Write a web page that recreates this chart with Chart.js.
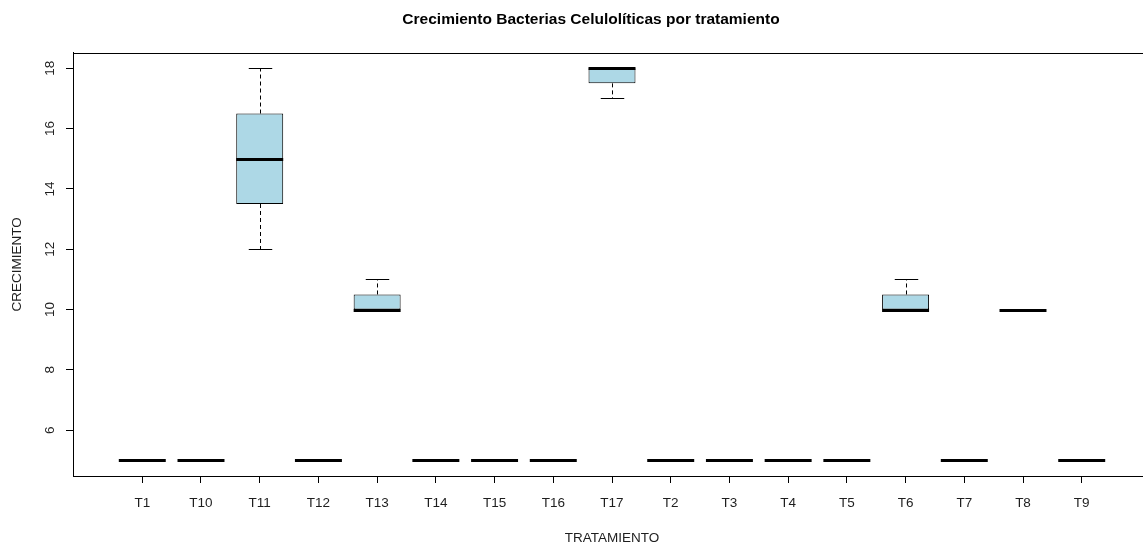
<!DOCTYPE html>
<html lang="es">
<head>
<meta charset="utf-8">
<title>Crecimiento Bacterias Celulolíticas por tratamiento</title>
<script src="https://cdn.jsdelivr.net/npm/chart.js@4.4.1/dist/chart.umd.min.js"></script>
<style>
  html, body { margin: 0; padding: 0; background: #fff; overflow: hidden; }
  #wrap { width: 1182px; height: 546px; }
  canvas { display: block; }
</style>
</head>
<body>
<div id="wrap"><canvas id="chart" width="1182" height="546"></canvas></div>
<script>
// Treatments, in the order they are plotted
const categories = ['T1', 'T10', 'T11', 'T12', 'T13', 'T14', 'T15', 'T16', 'T17',
                    'T2', 'T3', 'T4', 'T5', 'T6', 'T7', 'T8', 'T9'];

// Five-number summaries per treatment
const minimums = [5, 5, 12,   5, 10,   5, 5, 5, 17,   5, 5, 5, 5, 10,   5, 10, 5];
const lowerQ   = [5, 5, 13.5, 5, 10,   5, 5, 5, 17.5, 5, 5, 5, 5, 10,   5, 10, 5];
const medians  = [5, 5, 15,   5, 10,   5, 5, 5, 18,   5, 5, 5, 5, 10,   5, 10, 5];
const upperQ   = [5, 5, 16.5, 5, 10.5, 5, 5, 5, 18,   5, 5, 5, 5, 10.5, 5, 10, 5];
const maximums = [5, 5, 18,   5, 11,   5, 5, 5, 18,   5, 5, 5, 5, 11,   5, 10, 5];

// Value axis ticks
const yTicks = [6, 8, 10, 12, 14, 16, 18];

const FONT = "'Liberation Sans', Arial, Helvetica, sans-serif";
const INK = '#1e1e1e';

// Whiskers, staples, medians and the plot frame drawn around the floating bars
const boxplotParts = {
  id: 'boxplotParts',
  afterLayout(chart) {
    // centre the main title over the whole canvas
    if (chart.titleBlock) {
      chart.titleBlock.left = 0;
      chart.titleBlock.right = chart.width;
    }
  },
  beforeDatasetsDraw(chart) {
    const { ctx, scales: { x, y } } = chart;
    const bars = chart.getDatasetMeta(0).data;
    ctx.save();
    ctx.strokeStyle = '#000';
    ctx.lineWidth = 1;
    categories.forEach((c, i) => {
      const cx = Math.round(x.getPixelForValue(i + 1)) + 0.5;
      const half = bars[i].width / 2;
      const staple = half / 2;
      const yMin = Math.round(y.getPixelForValue(minimums[i])) + 0.5;
      const yMax = Math.round(y.getPixelForValue(maximums[i])) + 0.5;
      const yLo = y.getPixelForValue(lowerQ[i]);
      const yHi = y.getPixelForValue(upperQ[i]);
      // dashed whiskers
      ctx.setLineDash([4, 3]);
      ctx.beginPath();
      ctx.moveTo(cx, yHi); ctx.lineTo(cx, yMax);
      ctx.moveTo(cx, yLo); ctx.lineTo(cx, yMin);
      ctx.stroke();
      // staples
      ctx.setLineDash([]);
      ctx.beginPath();
      ctx.moveTo(cx - staple, yMax); ctx.lineTo(cx + staple, yMax);
      ctx.moveTo(cx - staple, yMin); ctx.lineTo(cx + staple, yMin);
      ctx.stroke();
    });
    ctx.restore();
  },
  afterDatasetsDraw(chart) {
    const { ctx, chartArea: a, scales: { x, y } } = chart;
    const bars = chart.getDatasetMeta(0).data;
    ctx.save();
    ctx.strokeStyle = '#000';
    ctx.lineWidth = 3;
    ctx.lineCap = 'butt';
    categories.forEach((c, i) => {
      const cx = x.getPixelForValue(i + 1);
      const half = bars[i].width / 2;
      const ym = Math.round(y.getPixelForValue(medians[i]));
      ctx.beginPath();
      ctx.moveTo(cx - half, ym + 0.5);
      ctx.lineTo(cx + half, ym + 0.5);
      ctx.stroke();
    });
    // plot frame
    ctx.lineWidth = 1;
    ctx.strokeRect(Math.round(a.left) + 0.5, Math.round(a.top) + 0.5,
                   Math.round(a.right - a.left), Math.round(a.bottom - a.top));
    ctx.restore();
  }
};

Chart.defaults.font.family = FONT;
Chart.defaults.color = INK;

new Chart(document.getElementById('chart'), {
  type: 'bar',
  data: {
    datasets: [{
      label: 'Crecimiento',
      data: categories.map((c, i) => ({ x: i + 1, y: [lowerQ[i], upperQ[i]] })),
      backgroundColor: '#ADD8E6',
      borderColor: '#000',
      borderWidth: 1,
      borderSkipped: false,
      barPercentage: 1,
      categoryPercentage: 0.8
    }]
  },
  options: {
    responsive: false,
    animation: false,
    devicePixelRatio: 1,
    layout: { padding: { left: 0, right: 31, top: 0, bottom: 0 } },
    plugins: {
      legend: { display: false },
      tooltip: { enabled: false },
      title: {
        display: true,
        text: 'Crecimiento Bacterias Celulolíticas por tratamiento',
        color: '#000',
        font: { family: FONT, size: 15.5, weight: 'bold' },
        padding: { top: 10, bottom: 24 }
      }
    },
    scales: {
      x: {
        type: 'linear',
        offset: false,
        min: -0.18,
        max: 18.18,
        afterBuildTicks: (scale) => { scale.ticks = categories.map((c, i) => ({ value: i + 1 })); },
        afterFit: (scale) => { scale.height = 70; },
        ticks: {
          autoSkip: false,
          maxRotation: 0,
          padding: 12,
          font: { size: 13.5 },
          callback: (v) => categories[v - 1]
        },
        grid: { display: true, offset: false, drawOnChartArea: false, drawTicks: true, tickLength: 7, color: '#000' },
        border: { display: true, color: '#000' },
        title: { display: true, text: 'TRATAMIENTO', font: { size: 13.5 }, padding: { top: 0, bottom: 0 } }
      },
      y: {
        type: 'linear',
        beginAtZero: false,
        min: 4.48,
        max: 18.52,
        afterBuildTicks: (scale) => { scale.ticks = yTicks.map((v) => ({ value: v })); },
        afterFit: (scale) => { scale.width = 73; },
        ticks: {
          minRotation: 90,
          maxRotation: 90,
          crossAlign: 'center',
          padding: 8,
          font: { size: 13.5 }
        },
        grid: { display: true, drawOnChartArea: false, drawTicks: true, tickLength: 7, color: '#000' },
        border: { display: true, color: '#000' },
        title: { display: true, text: 'CRECIMIENTO', font: { size: 13.5 }, padding: { top: 9, bottom: 0 } }
      }
    }
  },
  plugins: [boxplotParts]
});
</script>
</body>
</html>
